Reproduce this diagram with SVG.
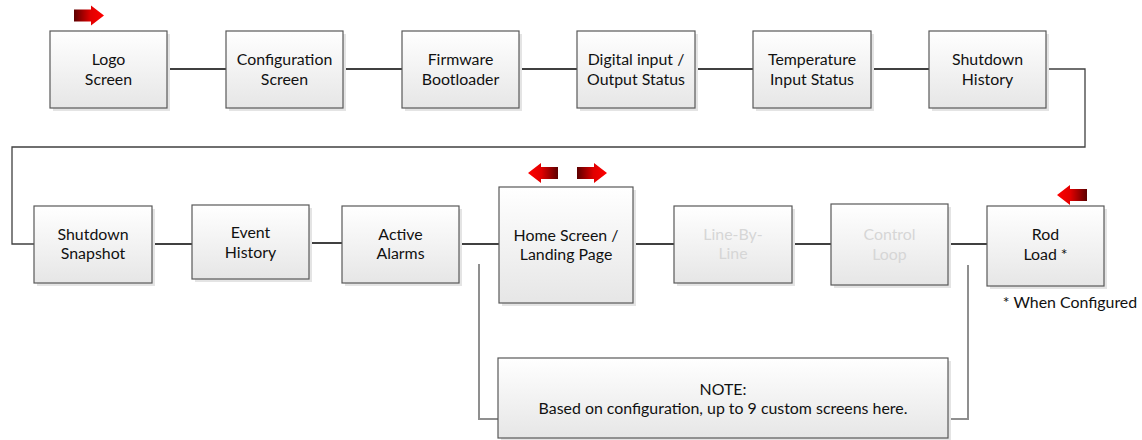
<svg xmlns="http://www.w3.org/2000/svg" width="1142" height="440" viewBox="0 0 1142 440">
<style>
.box{fill:url(#boxg);stroke:#595959;stroke-width:1.2}
.sh{fill:#e4e4e4}
.t{font-family:"Lato","Liberation Sans",sans-serif;font-size:15.9px;fill:#111111;text-anchor:middle}
.f{fill:#d6d6d6}
.c{fill:none;stroke:#404040;stroke-width:2}
.w{fill:none;stroke:#404040;stroke-width:1.3}
.v{fill:none;stroke:#8f8f8f;stroke-width:2}
.arr{fill:url(#arrg)}
</style>
<defs>
<linearGradient id="boxg" x1="0" y1="0" x2="0" y2="1">
<stop offset="0" stop-color="#ffffff"/>
<stop offset="1" stop-color="#e6e6e6"/>
</linearGradient>
<linearGradient id="arrg" x1="0" y1="0" x2="1" y2="0">
<stop offset="0" stop-color="#5c0000"/>
<stop offset="0.55" stop-color="#e00000"/>
<stop offset="1" stop-color="#ff0000"/>
</linearGradient>
<path id="arrow" d="M0,-6 H17 V-10 L30,0 L17,10 V6 H0 Z"/>
</defs>
<rect width="1142" height="440" fill="#ffffff"/>

<g id="connectors">
<path class="c" d="M167,69 H226 M343,69 H402 M519,69 H577 M695,69 H753 M871,69 H929"/>
<path class="w" d="M1046,69 H1085 V147 H12 V244 H34"/>
<path class="c" d="M152,244 H192 M309,243 H342 M459,244 H499 M633,244 H674 M792,244 H831 M948,244 H987"/>
<path class="v" d="M479,264 V419 H498 M968,265 V419 H948"/>
</g>

<g id="logo">
<rect class="sh" x="53" y="34" width="117" height="77"/>
<rect class="box" x="50" y="31" width="117" height="77"/>
<text class="t" x="108.5" y="65">Logo</text>
<text class="t" x="108.5" y="85">Screen</text>
<use href="#arrow" class="arr" transform="translate(74,15.5)"/>
</g>
<g id="configuration">
<rect class="sh" x="229" y="34" width="117" height="77"/>
<rect class="box" x="226" y="31" width="117" height="77"/>
<text class="t" x="284.5" y="65">Configuration</text>
<text class="t" x="284.5" y="85">Screen</text>
</g>
<g id="firmware">
<rect class="sh" x="405" y="34" width="117" height="77"/>
<rect class="box" x="402" y="31" width="117" height="77"/>
<text class="t" x="460.5" y="65">Firmware</text>
<text class="t" x="460.5" y="85">Bootloader</text>
</g>
<g id="digital">
<rect class="sh" x="580" y="34" width="118" height="77"/>
<rect class="box" x="577" y="31" width="118" height="77"/>
<text class="t" x="636" y="65">Digital input /</text>
<text class="t" x="636" y="85">Output Status</text>
</g>
<g id="temperature">
<rect class="sh" x="756" y="34" width="118" height="77"/>
<rect class="box" x="753" y="31" width="118" height="77"/>
<text class="t" x="812" y="65">Temperature</text>
<text class="t" x="812" y="85">Input Status</text>
</g>
<g id="shutdown-history">
<rect class="sh" x="932" y="34" width="117" height="77"/>
<rect class="box" x="929" y="31" width="117" height="77"/>
<text class="t" x="987.5" y="65">Shutdown</text>
<text class="t" x="987.5" y="85">History</text>
</g>

<g id="shutdown-snapshot">
<rect class="sh" x="37" y="209" width="118" height="77"/>
<rect class="box" x="34" y="206" width="118" height="77"/>
<text class="t" x="93" y="240">Shutdown</text>
<text class="t" x="93" y="259">Snapshot</text>
</g>
<g id="event-history">
<rect class="sh" x="195" y="208" width="117" height="74"/>
<rect class="box" x="192" y="205" width="117" height="74"/>
<text class="t" x="250.5" y="238">Event</text>
<text class="t" x="250.5" y="258">History</text>
</g>
<g id="active-alarms">
<rect class="sh" x="345" y="209" width="117" height="77"/>
<rect class="box" x="342" y="206" width="117" height="77"/>
<text class="t" x="400.5" y="240">Active</text>
<text class="t" x="400.5" y="259">Alarms</text>
</g>
<g id="home-screen">
<rect class="sh" x="502" y="190" width="134" height="116"/>
<rect class="box" x="499" y="187" width="134" height="116"/>
<text class="t" x="566" y="241">Home Screen /</text>
<text class="t" x="566" y="260">Landing Page</text>
<use href="#arrow" class="arr" transform="translate(558,173) scale(-1,1)"/>
<use href="#arrow" class="arr" transform="translate(577,173)"/>
</g>
<g id="line-by-line">
<rect class="sh" x="677" y="209" width="118" height="77"/>
<rect class="box" x="674" y="206" width="118" height="77"/>
<text class="t f" x="733" y="240">Line-By-</text>
<text class="t f" x="733" y="259">Line</text>
</g>
<g id="control-loop">
<rect class="sh" x="834" y="207" width="117" height="81"/>
<rect class="box" x="831" y="204" width="117" height="81"/>
<text class="t f" x="889.5" y="240">Control</text>
<text class="t f" x="889.5" y="260">Loop</text>
</g>
<g id="rod-load">
<rect class="sh" x="990" y="209" width="117" height="80"/>
<rect class="box" x="987" y="206" width="117" height="80"/>
<text class="t" x="1045.5" y="240">Rod</text>
<text class="t" x="1045.5" y="260">Load *</text>
<use href="#arrow" class="arr" transform="translate(1087,195) scale(-1,1)"/>
</g>
<g id="when-configured">
<text class="t" x="1070" y="308">* When Configured</text>
</g>
<g id="note">
<rect class="sh" x="501" y="361" width="450" height="80"/>
<rect class="box" x="498" y="358" width="450" height="80"/>
<text class="t" x="723" y="395">NOTE:</text>
<text class="t" x="723" y="414">Based on configuration, up to 9 custom screens here.</text>
</g>
</svg>
